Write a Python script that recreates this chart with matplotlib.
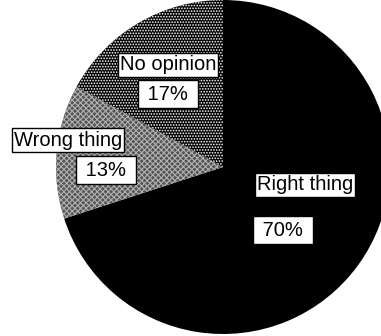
import matplotlib
matplotlib.use("Agg")
import matplotlib.pyplot as plt

labels = ["Right thing", "Wrong thing", "No opinion"]
values = [70, 13, 17]
pct_labels = ["70%", "13%", "17%"]

plt.rcParams['font.family'] = ['Liberation Sans', 'DejaVu Sans']
plt.rcParams['hatch.linewidth'] = 0.8

W, H = 381, 336
fig = plt.figure(figsize=(W / 100, H / 100), dpi=100)
ax = fig.add_axes([0, 0, 1, 1])

wedges, _ = ax.pie(values, startangle=90, counterclock=False,
                   center=(223, H - 167), radius=167,
                   wedgeprops=dict(linewidth=0))
wedges[0].set_facecolor("black")
wedges[1].set_facecolor("#555555")
wedges[1].set_edgecolor("#b0b0b0")
wedges[1].set_hatch("xxxxxx")
wedges[2].set_facecolor("black")
wedges[2].set_edgecolor("white")
wedges[2].set_hatch("......")

ax.set_xlim(0, W)
ax.set_ylim(0, H)
ax.set_aspect("auto")
ax.axis("off")

box = dict(facecolor="white", edgecolor="black", linewidth=1, pad=1.5)
fs = 14.5

# label positions in pixels (x, y from top)
name_pos = {"Right thing": (305, 185), "Wrong thing": (68, 140), "No opinion": (168, 65)}
pct_pos = {"70%": (283, 230), "13%": (106, 170), "17%": (168, 94)}

for name, pct in zip(labels, pct_labels):
    x, y = name_pos[name]
    ax.text(x, H - y, name, fontsize=fs, ha="center", va="center", bbox=box)
    x, y = pct_pos[pct]
    ax.text(x, H - y, " " + pct + " ", fontsize=fs, ha="center", va="center",
            bbox=dict(facecolor="white", edgecolor="black", linewidth=1, pad=3))

fig.savefig("out.png", dpi=100)
